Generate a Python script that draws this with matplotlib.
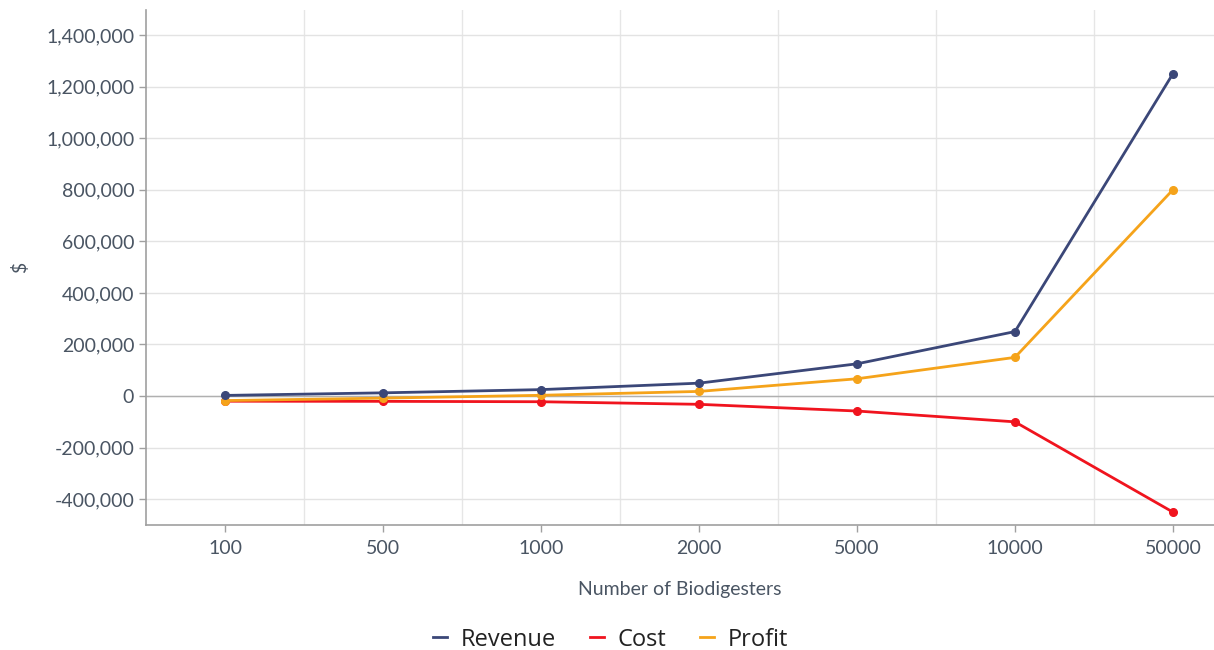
import numpy as np
import matplotlib
matplotlib.use("Agg")
from matplotlib import pyplot as plt
from matplotlib.ticker import FuncFormatter

# datos
categorias = ["100", "500", "1000", "2000", "5000", "10000", "50000"]
revenue = [2500, 12500, 25000, 50000, 125000, 250000, 1250000]
cost = [-20000, -20500, -22000, -32000, -58000, -100000, -450000]
profit = [-17500, -8000, 3000, 18000, 67000, 150000, 800000]
yticks = [-400000, -200000, 0, 200000, 400000, 600000, 800000, 1000000, 1200000, 1400000]

texto = "#4a5563"
plt.rcParams['font.family'] = ['Lato', 'DejaVu Sans']

fig = plt.figure(figsize=(12.14, 6.5), dpi=100)
ax = fig.add_axes([0.1203, 0.1923, 0.8797, 0.7923])

x = np.arange(len(categorias))
ax.plot(x, revenue, '-o', color='#3b4778', lw=2, ms=5.5, label='Revenue', zorder=4)
ax.plot(x, cost, '-o', color='#f0141e', lw=2, ms=5.5, label='Cost', zorder=3)
ax.plot(x, profit, '-o', color='#f5a31a', lw=2, ms=5.5, label='Profit', zorder=3)

ax.set_xlim(-0.5, 6.26)
ax.set_ylim(-500000, 1497000)
ax.set_xticks(x)
ax.set_xticklabels(categorias)
ax.set_xticks(x[:-1] + 0.5, minor=True)
ax.set_yticks(yticks)
ax.yaxis.set_major_formatter(FuncFormatter(lambda v, p: f"{int(v):,}"))

ax.grid(axis='y', color='#e3e3e3', lw=1)
ax.grid(axis='x', which='minor', color='#e6e6e6', lw=1)
ax.axhline(0, color='#b0b0b0', lw=1, zorder=2)
ax.set_axisbelow(True)

for s in ['top', 'right']:
    ax.spines[s].set_visible(False)
for s in ['left', 'bottom']:
    ax.spines[s].set_color('#a0a0a0')
    ax.spines[s].set_linewidth(1.2)

ax.tick_params(axis='both', which='major', colors='#a0a0a0', labelcolor=texto, labelsize=14, length=5, width=1)
ax.tick_params(axis='x', which='minor', length=0)
ax.tick_params(axis='x', pad=6)

ax.set_xlabel('Number of Biodigesters', fontsize=14, color=texto, labelpad=17)
ax.set_ylabel('$', fontsize=14, color=texto, labelpad=12)

leg = fig.legend(loc='lower center', bbox_to_anchor=(0.503, -0.035), ncol=3, frameon=False,
                 handlelength=0.6, handletextpad=0.6, columnspacing=1.4,
                 prop={'family': ['Open Sans', 'DejaVu Sans'], 'size': 17})
for h in leg.legend_handles:
    h.set_marker('')
    h.set_linewidth(2)
for t in leg.get_texts():
    t.set_color('#222222')

fig.savefig('out.png', dpi=100)
